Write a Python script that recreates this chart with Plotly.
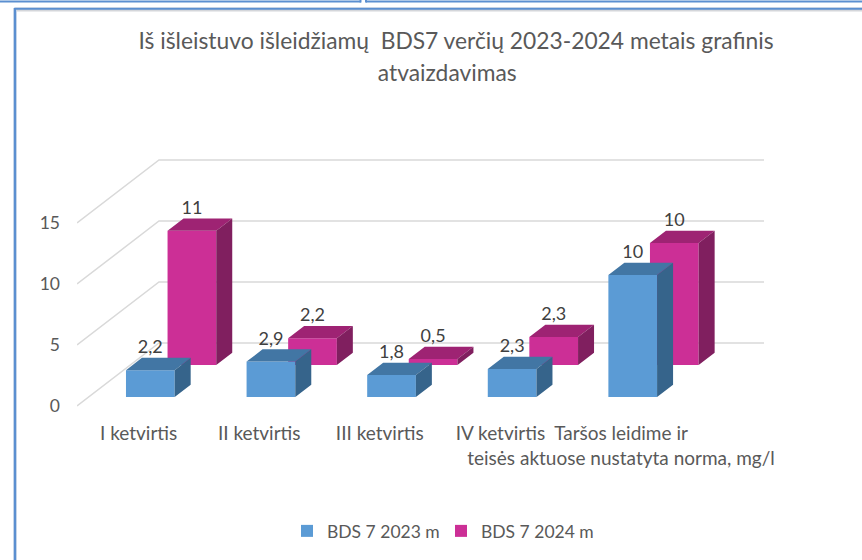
import plotly.graph_objects as go

categories = ["I ketvirtis", "II ketvirtis", "III ketvirtis", "IV ketvirtis",
              "Taršos leidime ir<br>teisės aktuose nustatyta norma, mg/l"]
bds_2023 = [2.2, 2.9, 1.8, 2.3, 10]
bds_2024 = [11, 2.2, 0.5, 2.3, 10]
labels_2023 = ["2,2", "2,9", "1,8", "2,3", "10"]
labels_2024 = ["11", "2,2", "0,5", "2,3", "10"]
value_ticks = [0, 5, 10, 15]

W, H = 862, 560
L, R, T, B = 77, 764, 150, 420
PX_PER_CAT = 120.6
PX_PER_VAL = 12.2
CAT0_PX = 138.6
VAL0_PX = 406

# oblique projection: depth 0..1 moves right and up
DX = 82 / PX_PER_CAT
DY = 63 / PX_PER_VAL
BAR_W = 48.7 / PX_PER_CAT
BAR_DEPTH = 0.195
BLUE_D = 0.143
PINK_D = 0.65
LABEL_LIFT = 9 / PX_PER_VAL

FONT = "Lato, Carlito, Calibri, sans-serif"
TXT = "#595959"
GRID = "#D9D9D9"
FRAME = "#5B8FD0"


def proj(x, v, d):
    return x + DX * d, v + DY * d


def faces(values, d0):
    d1 = d0 + BAR_DEPTH
    hw = BAR_W / 2
    tx, ty, sx, sy = [], [], [], []
    for i, v in enumerate(values):
        pts = [proj(i - hw, v, d0), proj(i + hw, v, d0), proj(i + hw, v, d1), proj(i - hw, v, d1), proj(i - hw, v, d0)]
        tx += [p[0] for p in pts] + [None]
        ty += [p[1] for p in pts] + [None]
        pts = [proj(i + hw, 0, d0), proj(i + hw, v, d0), proj(i + hw, v, d1), proj(i + hw, 0, d1), proj(i + hw, 0, d0)]
        sx += [p[0] for p in pts] + [None]
        sy += [p[1] for p in pts] + [None]
    return tx, ty, sx, sy


def add_series(fig, name, values, labels, d0, front, top, side):
    fig.add_trace(go.Bar(
        name=name, x=[proj(i, 0, d0)[0] for i in range(len(values))],
        y=values, base=[proj(0, 0, d0)[1]] * len(values), width=BAR_W,
        marker=dict(color=front, line=dict(width=0)), showlegend=True))
    tx, ty, sx, sy = faces(values, d0)
    for xs, ys, col in ((tx, ty, top), (sx, sy, side)):
        fig.add_trace(go.Scatter(x=xs, y=ys, mode="lines", fill="toself", fillcolor=col,
                                 line=dict(width=0, color=col), showlegend=False, hoverinfo="skip"))


fig = go.Figure()
add_series(fig, "BDS 7 2024 m", bds_2024, labels_2024, PINK_D, "#CC2F96", "#9E2373", "#801F5F")
add_series(fig, "BDS 7 2023 m", bds_2023, labels_2023, BLUE_D, "#5B9BD5", "#4276A4", "#36648B")

for values, labels, d0 in ((bds_2024, labels_2024, PINK_D), (bds_2023, labels_2023, BLUE_D)):
    fig.add_trace(go.Scatter(
        x=[proj(i, 0, d0)[0] for i in range(len(values))],
        y=[proj(0, v, d0 + BAR_DEPTH)[1] + LABEL_LIFT for v in values],
        text=labels, mode="text", textposition="middle center",
        textfont=dict(family=FONT, size=18, color="#404040"),
        showlegend=False, hoverinfo="skip"))

xmin, xmax = (L - CAT0_PX) / PX_PER_CAT, (R - CAT0_PX) / PX_PER_CAT
ymin, ymax = (VAL0_PX - B) / PX_PER_VAL, (VAL0_PX - T) / PX_PER_VAL

shapes = []
for v in value_ticks:
    bx, by = proj(xmin, v, 1)
    shapes.append(dict(type="path", xref="x", yref="y", layer="below",
                       path=f"M{xmin},{v} L{bx},{by} L{xmax},{by}",
                       line=dict(color=GRID, width=1.5)))


def px(x):
    return (x - L) / (R - L)


def py(y):
    return (B - y) / (B - T)


def frame_line(x0, y0, x1, y1, color, width):
    shapes.append(dict(type="line", xref="paper", yref="paper", x0=px(x0), x1=px(x1), y0=py(y0), y1=py(y1),
                       line=dict(color=color, width=width)))


frame_line(15, 9.5, 862, 9.5, "#D4D6DA", 4)
frame_line(15, 8, 15, 560, "#C5D5EA", 4)
for seg in ((0, 1.5, 361, 1.5), (360.5, 0, 360.5, 2.5), (366, 1.5, 862, 1.5), (366, 0, 366, 2.5),
            (14, 8.7, 862, 8.7), (15, 8, 15, 560)):
    frame_line(*seg, FRAME, 2)

fig.update_layout(
    width=W, height=H, autosize=False,
    margin=dict(l=L, r=W - R, t=T, b=H - B),
    paper_bgcolor="white", plot_bgcolor="rgba(0,0,0,0)",
    barmode="overlay", shapes=shapes,
    title=dict(text="<span style='font-size:22.8px'>Iš išleistuvo išleidžiamų  BDS7 verčių 2023-2024 metais grafinis</span><br>"
                    "<span style='font-size:22.8px'>atvaizdavimas\u00a0\u00a0\u00a0</span>",
               font=dict(family=FONT, size=24.6, color=TXT),
               x=456 / W, xanchor="center", y=1 - 49 / H, yanchor="middle"),
    font=dict(family=FONT, color=TXT, size=17),
    legend=dict(orientation="h", x=287 / W, xref="container", y=1 - 531 / H, yref="container",
                xanchor="left", yanchor="middle", traceorder="reversed", entrywidth=109,
                font=dict(family=FONT, size=17.5, color=TXT), bgcolor="rgba(0,0,0,0)"),
    xaxis=dict(range=[xmin, xmax], tickvals=list(range(len(categories))), ticktext=categories,
               tickangle=0, showgrid=False, zeroline=False, showline=False, ticks="",
               tickfont=dict(family=FONT, size=19, color=TXT), ticklabelstandoff=0),
    yaxis=dict(range=[ymin, ymax], tickvals=value_ticks, ticktext=[str(v) for v in value_ticks],
               showgrid=False, zeroline=False, showline=False, ticks="",
               tickfont=dict(family=FONT, size=17.5, color=TXT), ticklabelstandoff=16),
)

fig.write_html("out.html", config=dict(displayModeBar=False), post_script="document.body.style.margin='0';")
